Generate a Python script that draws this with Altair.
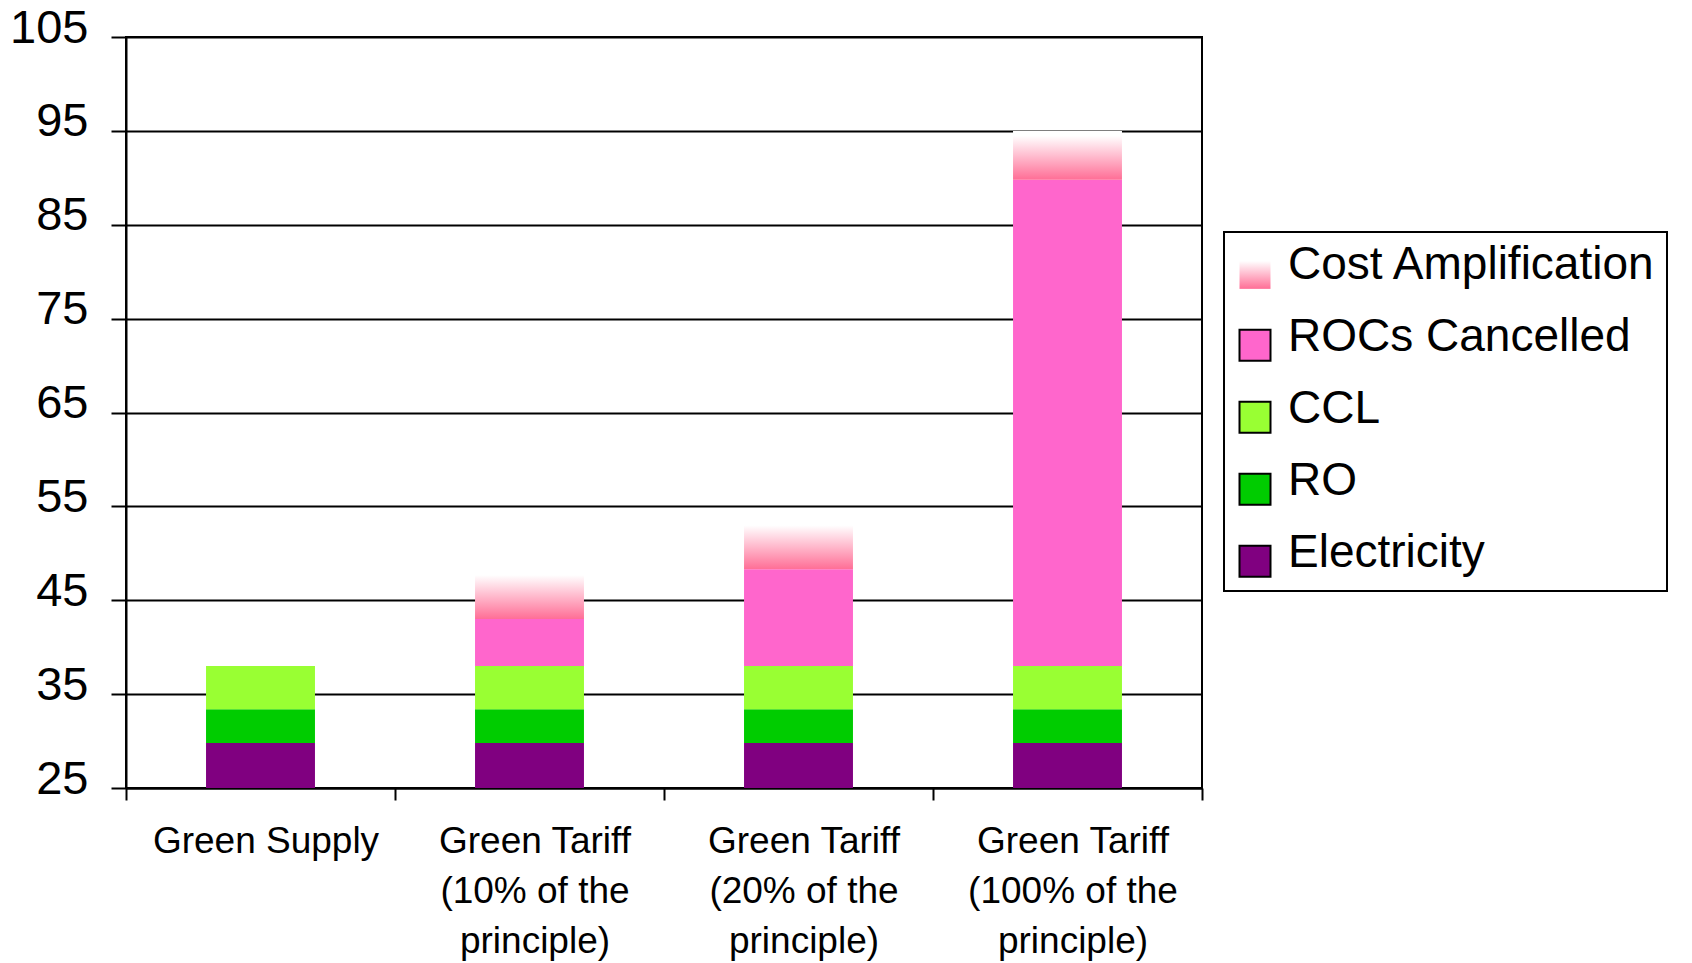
import altair as alt
import pandas as pd

categories = [
    "Green Supply",
    "Green Tariff\n(10% of the\nprinciple)",
    "Green Tariff\n(20% of the\nprinciple)",
    "Green Tariff\n(100% of the\nprinciple)",
]
series = ["Electricity", "RO", "CCL", "ROCs Cancelled", "Cost Amplification"]
electricity = [29.8, 29.8, 29.8, 29.8]
ro = [3.6, 3.6, 3.6, 3.6]
ccl = [4.6, 4.6, 4.6, 4.6]
rocs = [0.0, 5.0, 10.3, 51.8]
cost_amp = [0.0, 5.2, 5.2, 5.2]

y_ticks = [25, 35, 45, 55, 65, 75, 85, 95, 105]

legend_order = ["Cost Amplification", "ROCs Cancelled", "CCL", "RO", "Electricity"]
grad_expr = (
    "{gradient: 'linear', x1: 0, y1: 0, x2: 0, y2: 1, "
    "stops: [{offset: 0, color: '#ffffff'}, {offset: 0.1, color: '#ffffff'}, "
    "{offset: 1, color: '#ff6e96'}]}"
)
legend_colors = [{"expr": grad_expr}, "#ff66cc", "#99ff33", "#00cc00", "#800080"]
legend_strokes = ["transparent", "black", "black", "black", "black"]

rows = []
for i, cat in enumerate(categories):
    for k, (name, vals) in enumerate(zip(series, [electricity, ro, ccl, rocs, cost_amp])):
        if vals[i] > 0:
            rows.append({"category": cat, "series": name, "value": vals[i], "order": k})
df = pd.DataFrame(rows)

FONT = "Liberation Sans"

color_scale = alt.Scale(domain=legend_order, range=legend_colors)
stroke_scale = alt.Scale(domain=legend_order, range=legend_strokes)

# square symbol drawn slightly below the entry centre, as in the original legend
shifted_square = "M-1,-0.46 L1,-0.46 L1,1.54 L-1,1.54 Z"

legend = alt.Legend(
    title=None,
    orient="none",
    legendX=1098,
    legendY=195,
    symbolType=shifted_square,
    symbolSize=961,
    symbolStrokeWidth=2,
    symbolOpacity=1,
    symbolOffset=-2,
    labelFontSize=46,
    labelFont=FONT,
    labelColor="black",
    labelOffset=10,
    labelLimit=600,
    rowPadding=21,
    padding=10,
    strokeColor="black",
    fillColor="white",
)

base = alt.Chart(df)

bars = base.mark_bar(clip=True, width=alt.RelativeBandSize(0.405)).encode(
    x=alt.X(
        "category:N",
        sort=categories,
        title=None,
        scale=alt.Scale(paddingInner=0, paddingOuter=0),
        axis=alt.Axis(
            labelAngle=0,
            labelExpr="split(datum.label, '\\n')",
            labelFontSize=37,
            labelLineHeight=50,
            labelPadding=23,
            labelOffset=5,
            labelLimit=500,
            labelColor="black",
            labelFont=FONT,
            tickBand="extent",
            tickSize=12,
            tickWidth=2,
            tickColor="black",
            domainColor="black",
            domainWidth=2,
            grid=False,
        ),
    ),
    y=alt.Y(
        "value:Q",
        stack="zero",
        title=None,
        scale=alt.Scale(domain=[25, 105], nice=False, zero=False),
        axis=alt.Axis(
            values=y_ticks,
            labelFontSize=47,
            labelPadding=23,
            labelOffset=-9,
            labelColor="black",
            labelFont=FONT,
            tickSize=15,
            tickWidth=2,
            tickColor="black",
            domainColor="black",
            domainWidth=2,
            grid=True,
            gridColor="black",
            gridWidth=2,
            gridOpacity=1,
        ),
    ),
    color=alt.Color("series:N", scale=color_scale, legend=None),
    order=alt.Order("order:Q", sort="ascending"),
)

legend_layer = (
    base.mark_square(opacity=1, strokeWidth=2, filled=True)
    .encode(
        color=alt.Color("series:N", scale=color_scale, legend=legend),
        stroke=alt.Stroke("series:N", scale=stroke_scale, legend=legend),
    )
    .transform_filter("false")
)

chart = (
    alt.layer(bars, legend_layer)
    .resolve_legend(color="independent", stroke="independent")
    .properties(
        width=1076,
        height=751,
        autosize=alt.AutoSizeParams(type="none"),
        padding={"left": 126, "top": 37, "right": 490, "bottom": 175},
    )
    .configure(font=FONT)
    .configure_view(stroke="black", strokeWidth=2)
    .configure_legend(strokeWidth=2)
)

chart.save("out.html", embed_options={"renderer": "svg", "actions": False})
